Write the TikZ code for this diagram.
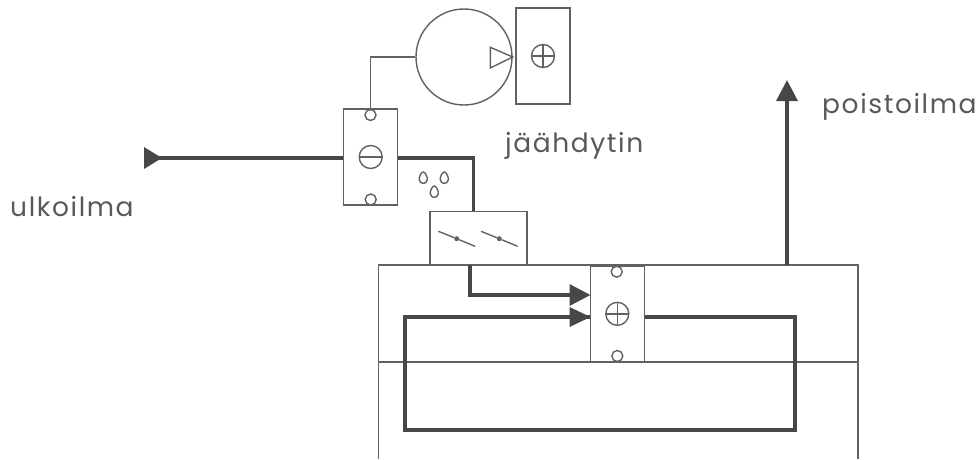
\documentclass[tikz,border=0pt]{standalone}
\usepackage{fontspec}
\setmainfont[LetterSpace=6]{Poppins}
\usepackage{tikz}
\usepackage{xcolor}
\usetikzlibrary{arrows,arrows.meta,positioning,calc}

\colorlet{linegray}{black!62}
\colorlet{ductgray}{black!72}

\tikzset{
  thinline/.style={draw=linegray, line width=1.4pt},
  duct/.style={draw=ductgray, line width=3.4pt},
  ducttip/.style={-{Triangle[length=21pt, width=21pt, fill=ductgray]}},
  unitbox/.style={rectangle, thinline, inner sep=0pt, minimum width=54pt, minimum height=96pt},
  port/.style={circle, thinline, fill=white, inner sep=0pt, minimum size=11pt},
  hub/.style={circle, fill=linegray, inner sep=0pt, minimum size=5pt},
  plusmark/.style={circle, thinline, inner sep=0pt, minimum size=23pt,
    path picture={\draw[linegray, line width=1.4pt]
      (path picture bounding box.north) -- (path picture bounding box.south)
      (path picture bounding box.west) -- (path picture bounding box.east);}},
  minusmark/.style={circle, thinline, inner sep=0pt, minimum size=23pt,
    path picture={\draw[linegray, line width=1.4pt]
      (path picture bounding box.west) -- (path picture bounding box.east);}},
  caption/.style={text=black!65, font=\fontsize{26.5}{26.5}\selectfont, inner sep=0pt, anchor=base west},
}

\begin{document}
\begin{tikzpicture}[x=1pt, y=-1pt]
\useasboundingbox (0,0) rectangle (980,459);

% building
\coordinate (roomSW) at (378.5,459);
\coordinate (roomNW) at (378.5,265);
\coordinate (roomNE) at (858,265);
\coordinate (roomSE) at (858,459);
\coordinate (floorW) at (378.5,362);
\coordinate (floorE) at (858,362);
\draw[thinline] (roomSW) -- (roomNW) -- (roomNE) -- (roomSE);
\draw[thinline] (floorW) -- (floorE);

% chiller
\node[circle, thinline, inner sep=0pt, minimum size=96pt] (compressor) at (464,57) {};
\node[unitbox] (chiller) at (543,56) {};
\node[plusmark] (chillerplus) at (chiller.center) {};
\draw[thinline] (490.3,47.3) -- (490.3,68) -- (compressor.east) -- cycle;

% cooling coil
\node[unitbox] (cooler) at (370.7,157) {};
\node[minusmark] (coolerminus) at (cooler.center) {};
\node[port] (coolertop) at (370.5,115) {};
\node[port] (coolerbot) at (370.7,199.5) {};
\draw[thinline] (compressor.west) -| (coolertop.north);

% droplets
\foreach \x/\y [count=\i] in {423.3/178, 444.3/178, 434.3/192}
  \draw[thinline] (\x,\y-6) .. controls (\x+2,\y-6) and (\x+4.5,\y-1) .. (\x+4,\y+2)
    .. controls (\x+3,\y+6.5) and (\x-3,\y+6.5) .. (\x-4,\y+2)
    .. controls (\x-4.5,\y-1) and (\x-2,\y-6) .. (\x,\y-6) -- cycle;

% dampers
\node[rectangle, thinline, inner sep=0pt, minimum width=97pt, minimum height=54pt]
  (damper) at (478.3,238.5) {};
\foreach \x/\name in {456.7/hubA, 499.3/hubB} {
  \node[hub] (\name) at (\x,238.7) {};
  \draw[thinline] (\x-18.3,231.3) -- (\name) -- (\x+18.3,246.3);
}

% heating coil
\node[unitbox] (heater) at (617.3,313.8) {};
\node[plusmark] (heaterplus) at (heater.center) {};
\node[port] (heatertop) at (616.7,271.7) {};
\node[port] (heaterbot) at (617.3,356) {};

% air routes
\coordinate (intake) at (144,158);
\coordinate (dropin) at (473.5,211);
\coordinate (dropout) at (470,265);
\coordinate (upper) at (590.5,295);
\coordinate (lower) at (590.5,317);
\coordinate (retR) at (795,317);
\coordinate (retB) at (795,430);
\coordinate (retL) at (405,430);
\coordinate (retT) at (405,317);
\coordinate (exhaustB) at (787,265);
\coordinate (exhaustT) at (787,80);

\draw[duct, {Triangle[length=18pt, width=21pt, reversed, fill=ductgray]}-] (intake) -- (cooler.west |- intake);
\draw[duct] (cooler.east |- intake) -| (dropin);
\draw[duct, ducttip] (dropout) |- (upper);
\draw[duct, line join=miter] (heater.east |- lower) -- (retR) -- (retB) -- (retL) -- (retT) -- (retT -| heater.west);
\path[fill=ductgray] (lower) -- ++(-21,-10) -- ++(0,20) -- cycle;
\draw[duct, ducttip] (exhaustB) -- (exhaustT);

% captions
\node[caption] (ulkoilma) at (10,216) {ulkoilma};
\node[caption] (jaahdytin) at (505,152) {jäähdytin};
\node[caption] (poistoilma) at (822,113) {poistoilma};
\end{tikzpicture}
\end{document}
